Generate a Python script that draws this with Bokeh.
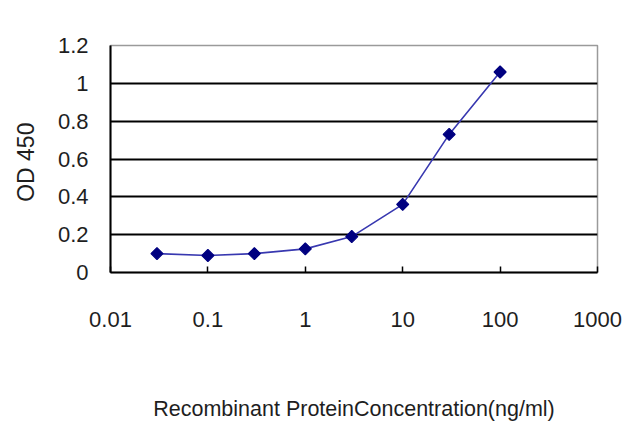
import math
from bokeh.plotting import figure
from bokeh.models import FixedTicker, CustomJSTickFormatter, Range1d
from bokeh.embed import file_html
from bokeh.resources import INLINE

# data
concentration = [0.03, 0.1, 0.3, 1, 3, 10, 30, 100]
od450 = [0.10, 0.09, 0.10, 0.125, 0.19, 0.36, 0.73, 1.06]
x_ticks = [0.01, 0.1, 1, 10, 100, 1000]
y_ticks = [0, 0.2, 0.4, 0.6, 0.8, 1.0, 1.2]
grid_ticks = [0.2, 0.4, 0.6, 0.8, 1.0]

FONT = "Liberation Sans"
TXT = "#1e1e1e"

p = figure(width=640, height=427, x_axis_type="log",
           x_range=Range1d(0.01, 1000), y_range=Range1d(0, 1.2),
           output_backend="svg", toolbar_location=None,
           min_border_left=110, min_border_right=43,
           min_border_top=45, min_border_bottom=155)
p.background_fill_color = "white"
p.border_fill_color = "white"
p.outline_line_color = "#9a9a9a"
p.outline_line_width = 1.5

p.line(concentration, od450, line_color="#3838b0", line_width=1.6)
p.scatter(concentration, od450, marker="square", size=8.5, angle=math.pi / 4,
          fill_color="#000080", line_color="#000080", line_width=1.2)

# x axis
xa = p.xaxis[0]
xa.ticker = FixedTicker(ticks=x_ticks, minor_ticks=[])
xa.formatter = CustomJSTickFormatter(code="return tick.toString();")
xa.axis_line_width = 2
xa.axis_line_color = "black"
xa.major_tick_in = 6
xa.major_tick_out = 0
xa.major_tick_line_width = 1.5
xa.minor_tick_line_color = None
xa.major_label_text_font = FONT
xa.major_label_text_font_size = "22px"
xa.major_label_text_color = TXT
xa.major_label_standoff = 39
xa.axis_label = "Recombinant ProteinConcentration(ng/ml)"
xa.axis_label_text_font = FONT
xa.axis_label_text_font_size = "21.5px"
xa.axis_label_text_font_style = "normal"
xa.axis_label_text_color = TXT
xa.axis_label_standoff = 67

# y axis
ya = p.yaxis[0]
ya.ticker = FixedTicker(ticks=y_ticks, minor_ticks=[])
ya.formatter = CustomJSTickFormatter(code="return parseFloat(tick.toFixed(1)).toString();")
ya.axis_line_width = 2
ya.axis_line_color = "black"
ya.major_tick_in = 0
ya.major_tick_out = 0
ya.minor_tick_line_color = None
ya.major_label_text_font = FONT
ya.major_label_text_font_size = "22px"
ya.major_label_text_color = TXT
ya.major_label_standoff = 22
ya.axis_label = "OD  450"
ya.axis_label_text_font = FONT
ya.axis_label_text_font_size = "23px"
ya.axis_label_text_font_style = "normal"
ya.axis_label_text_color = TXT
ya.axis_label_standoff = 16

p.xgrid.visible = False
p.ygrid.ticker = FixedTicker(ticks=grid_ticks)
p.ygrid.grid_line_color = "black"
p.ygrid.grid_line_width = 1.8

open("out.html", "w").write(file_html(p, INLINE))
